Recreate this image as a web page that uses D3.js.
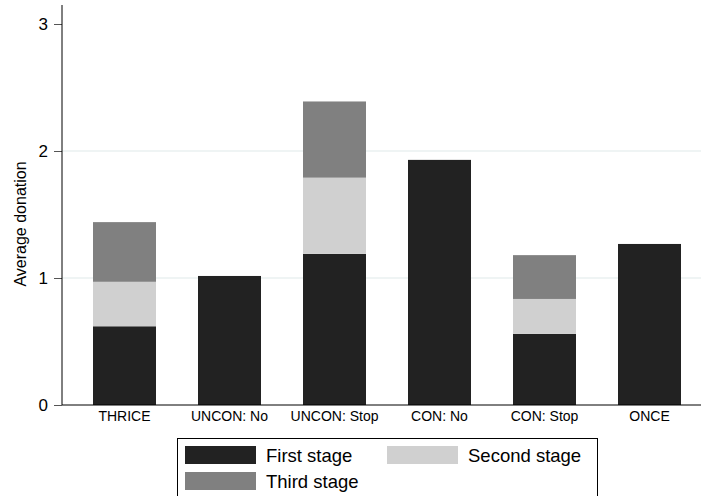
<!DOCTYPE html>
<html><head><meta charset="utf-8">
<script src="https://cdn.jsdelivr.net/npm/d3@7"></script>
<style>body{margin:0;background:#fff}svg{display:block;font-family:"Liberation Sans",Arial,sans-serif}</style>
</head><body>
<script>
const categories = ["THRICE","UNCON: No","UNCON: Stop","CON: No","CON: Stop","ONCE"];
const firstStage  = [0.62, 1.016, 1.19, 1.93, 0.56, 1.268];
const secondStage = [0.35, 0, 0.60, 0, 0.275, 0];
const thirdStage  = [0.47, 0, 0.60, 0, 0.345, 0];
const seriesNames = ["First stage","Second stage","Third stage"];
const seriesColors = ["#222222","#d0d0d0","#808080"];
const yTicks = [0,1,2,3];

const W=701,H=496;
const svg=d3.select("body").append("svg").attr("width",W).attr("height",H);
const x=d3.scaleBand().domain(categories).range([72,702]).paddingInner(0.4).paddingOuter(0.2);
const y=d3.scaleLinear().domain([0,3]).range([405,24]);

svg.append("g").selectAll("line").data([1,2]).join("line")
  .attr("x1",62).attr("x2",701).attr("y1",d=>y(d)).attr("y2",d=>y(d))
  .attr("stroke","#eaf0f0").attr("stroke-width",1.5);

const rows=categories.map((c,i)=>({cat:c,"First stage":firstStage[i],"Second stage":secondStage[i],"Third stage":thirdStage[i]}));
const stack=d3.stack().keys(seriesNames)(rows);
svg.append("g").selectAll("g").data(stack).join("g").attr("fill",(d,i)=>seriesColors[i])
  .selectAll("rect").data(d=>d.filter(s=>s[1]-s[0]>0)).join("rect")
  .attr("x",d=>x(d.data.cat)).attr("width",x.bandwidth())
  .attr("y",d=>y(d[1])).attr("height",d=>y(d[0])-y(d[1]));

const ya=svg.append("g").attr("transform","translate(62,0)")
  .call(d3.axisLeft(y).tickValues(yTicks).tickFormat(d3.format("d")).tickSizeOuter(0).tickSize(8).tickPadding(6));
ya.select(".domain").remove();
ya.append("line").attr("x1",0).attr("x2",0).attr("y1",5).attr("y2",405).attr("stroke","#000");
ya.selectAll(".tick line").attr("stroke","#555");
ya.selectAll("text").attr("font-size",17).attr("fill","#000").attr("font-family","Liberation Sans, Arial, sans-serif");

const xa=svg.append("g").attr("transform","translate(0,405)")
  .call(d3.axisBottom(x).tickSize(0).tickPadding(6));
xa.select(".domain").remove();
xa.append("line").attr("x1",62).attr("x2",701).attr("y1",0).attr("y2",0).attr("stroke","#000");
xa.selectAll("text").attr("font-size",14).attr("fill","#000").attr("font-family","Liberation Sans, Arial, sans-serif");

svg.append("text").attr("transform","translate(26,224) rotate(-90)").attr("text-anchor","middle")
  .attr("font-size",16).text("Average donation");

const lg=svg.append("g");
lg.append("rect").attr("x",177.5).attr("y",438.5).attr("width",420).attr("height",80)
  .attr("fill","#fff").attr("stroke","#000").attr("stroke-width",1);
const lpos=[[185,446],[387,446],[185,472]];
seriesNames.forEach((n,i)=>{
  const [lx,ly]=lpos[i];
  lg.append("rect").attr("x",lx).attr("y",ly).attr("width",71).attr("height",18).attr("fill",seriesColors[i]);
  lg.append("text").attr("x",lx+81).attr("y",ly+16).attr("font-size",18.5).text(n);
});
</script>
</body></html>
